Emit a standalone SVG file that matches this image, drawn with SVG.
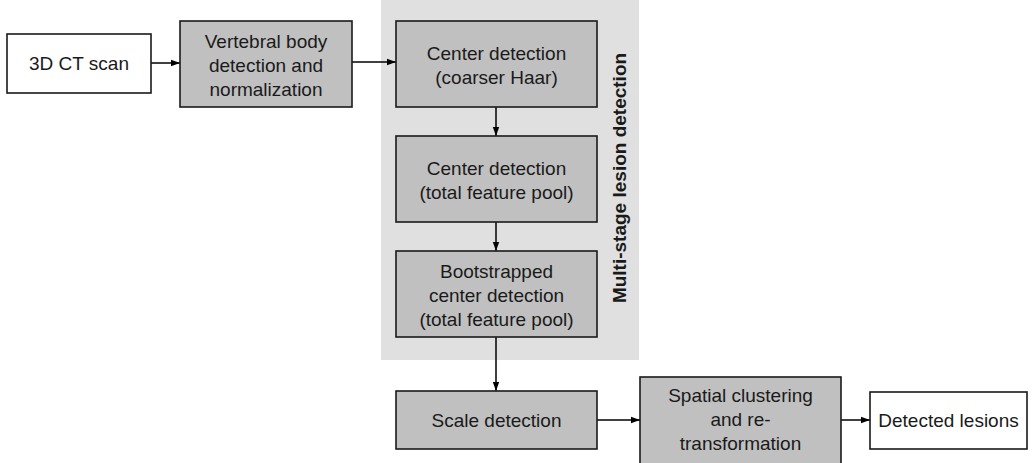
<svg xmlns="http://www.w3.org/2000/svg" width="1033" height="463" viewBox="0 0 1033 463">
  <style>
    .box { stroke: #1a1a1a; stroke-width: 1.6; }
    .g { fill: #c0c0c0; }
    .w { fill: #ffffff; }
    text { font-family: "Liberation Sans", Arial, sans-serif; font-size: 19px; fill: #1a1a1a; text-anchor: middle; }
    .lbl { font-weight: bold; }
    .edge { stroke: #000; stroke-width: 1.5; fill: none; marker-end: url(#ah); }
  </style>
  <defs>
    <marker id="ah" markerWidth="9" markerHeight="8" refX="9" refY="4" orient="auto" markerUnits="userSpaceOnUse">
      <path d="M0,0.8 L9,4 L0,7.2 Z" fill="#000"/>
    </marker>
  </defs>
  <rect width="1033" height="463" fill="#ffffff"/>
  <g id="region-multistage">
    <rect x="381" y="0" width="258" height="360" fill="#e0e0e0"/>
    <text class="lbl" transform="translate(626,178) rotate(-90)">Multi-stage lesion detection</text>
  </g>
  <g id="connectors">
    <line class="edge" x1="151" y1="63" x2="180" y2="63"/>
    <line class="edge" x1="352" y1="62" x2="396" y2="62"/>
    <line class="edge" x1="496" y1="107" x2="496" y2="136"/>
    <line class="edge" x1="496" y1="222" x2="496" y2="251"/>
    <line class="edge" x1="496" y1="337" x2="496" y2="391"/>
    <line class="edge" x1="597" y1="420" x2="640" y2="420"/>
    <line class="edge" x1="841" y1="420" x2="870" y2="420"/>
  </g>
  <g id="ct-scan">
    <rect class="box w" x="7" y="34" width="144" height="59"/>
    <text x="79" y="70">3D CT scan</text>
  </g>
  <g id="vertebral">
    <rect class="box g" x="180" y="21" width="172" height="86"/>
    <text x="266" y="48">Vertebral body</text>
    <text x="266" y="72">detection and</text>
    <text x="266" y="96">normalization</text>
  </g>
  <g id="center-coarse">
    <rect class="box g" x="396" y="21" width="201" height="86"/>
    <text x="496.5" y="60">Center detection</text>
    <text x="496.5" y="84">(coarser Haar)</text>
  </g>
  <g id="center-total">
    <rect class="box g" x="396" y="136" width="201" height="86"/>
    <text x="496.5" y="175">Center detection</text>
    <text x="496.5" y="199">(total feature pool)</text>
  </g>
  <g id="bootstrapped">
    <rect class="box g" x="396" y="251" width="201" height="86"/>
    <text x="496.5" y="278">Bootstrapped</text>
    <text x="496.5" y="302">center detection</text>
    <text x="496.5" y="326">(total feature pool)</text>
  </g>
  <g id="scale">
    <rect class="box g" x="396" y="391" width="201" height="58"/>
    <text x="496.5" y="427">Scale detection</text>
  </g>
  <g id="spatial">
    <rect class="box g" x="640" y="377" width="201" height="87"/>
    <text x="740.5" y="402">Spatial clustering</text>
    <text x="740.5" y="426">and re-</text>
    <text x="740.5" y="450">transformation</text>
  </g>
  <g id="detected">
    <rect class="box w" x="870" y="392" width="157" height="57"/>
    <text x="948.5" y="427">Detected lesions</text>
  </g>
</svg>
